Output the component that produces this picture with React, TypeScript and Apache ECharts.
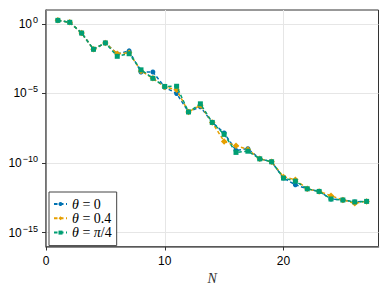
import React, { useEffect, useRef } from "react";
import * as echarts from "echarts";

const N = [1, 2, 3, 4, 5, 6, 7, 8, 9, 10, 11, 12, 13, 14, 15, 16, 17, 18, 19, 20, 21, 22, 23, 24, 25, 26, 27];

const errTheta0 = [
  1.8, 1.3, 0.22, 0.015, 0.043, 0.0069, 0.0115, 3.5e-4, 3.5e-4, 2.8e-5, 1.0e-5, 4.7e-7, 1.1e-6, 8.3e-8,
  1.45e-8, 8.1e-10, 1.07e-9, 2.0e-10, 1.23e-10, 8.3e-12, 2.75e-12, 1.4e-12, 9.1e-13, 2.6e-13, 2.2e-13,
  1.6e-13, 1.75e-13,
];
const errTheta04 = [
  1.8, 1.3, 0.22, 0.015, 0.043, 0.0072, 0.0085, 4.2e-4, 1.23e-4, 2.95e-5, 1.86e-5, 4.7e-7, 1.4e-6, 8.3e-8,
  3.5e-9, 1.74e-9, 9.5e-10, 2.0e-10, 1.23e-10, 1.0e-11, 6.3e-12, 1.4e-12, 9.1e-13, 4.5e-13, 2.2e-13,
  1.3e-13, 1.75e-13,
];
const errThetaPi4 = [
  1.8, 1.3, 0.22, 0.015, 0.043, 0.0047, 0.0072, 5.0e-4, 1.23e-4, 3.2e-5, 3.3e-5, 4.7e-7, 1.8e-6, 8.3e-8,
  1.15e-8, 5.8e-10, 7.1e-10, 2.0e-10, 1.23e-10, 8.3e-12, 5.0e-12, 1.4e-12, 9.1e-13, 2.6e-13, 2.2e-13,
  1.6e-13, 1.75e-13,
];

const xTicks = [0, 10, 20];
const yTickExponents = [-15, -10, -5, 0];
const seriesNames = ["θ = 0", "θ = 0.4", "θ = π/4"];
const colors = ["#0072B2", "#E69F00", "#009E73"];
const symbols = ["circle", "diamond", "rect"];
const symbolSizes = [5, 6.5, 5];

const sans = "Liberation Sans";
const serif = "Liberation Serif";

function toLog(vals: number[]) {
  return vals.map((v, i) => [N[i], Math.log10(v)]);
}

export default function App() {
  const ref = useRef<HTMLDivElement>(null);
  useEffect(() => {
    if (!ref.current) return;
    const chart = echarts.init(ref.current, null, { renderer: "svg" });
    const allData = [errTheta0, errTheta04, errThetaPi4];
    const legendRich = (name: string) => {
      if (name === seriesNames[2]) return "{i|θ}{r| = }{i|π}{r|/4}";
      if (name === seriesNames[1]) return "{i|θ}{r| = 0.4}";
      return "{i|θ}{r| = 0}";
    };
    chart.setOption({
      animation: false,
      backgroundColor: "#ffffff",
      grid: {
        left: 46,
        top: 10,
        right: 10.5,
        bottom: 45.5,
        show: true,
        borderColor: "#333",
        borderWidth: 1,
        containLabel: false,
      },
      legend: {
        orient: "vertical",
        left: 49,
        top: 192,
        padding: [5, 5, 6, 4],
        itemGap: 0.3,
        itemWidth: 13,
        itemHeight: 5,
        backgroundColor: "#ffffff",
        borderColor: "#444",
        borderWidth: 1,
        borderRadius: 0,
        data: seriesNames,
        formatter: legendRich,
        textStyle: {
          fontFamily: serif,
          fontSize: 14,
          lineHeight: 13,
          color: "#000",
          rich: {
            i: { fontFamily: serif, fontStyle: "italic", fontSize: 14, lineHeight: 13, color: "#000" },
            r: { fontFamily: serif, fontSize: 14, lineHeight: 13, color: "#000" },
          },
        },
      },
      xAxis: {
        type: "value",
        min: 0,
        max: 28,
        interval: 10,
        name: "N",
        nameLocation: "middle",
        nameGap: 21,
        nameTextStyle: { fontFamily: serif, fontStyle: "italic", fontSize: 14, color: "#333" },
        axisLine: { show: true, onZero: false, lineStyle: { color: "#666", width: 1.5 } },
        axisTick: { show: true, inside: false, length: 4, customValues: xTicks, lineStyle: { color: "#333" } },
        axisLabel: {
          customValues: xTicks,
          margin: 8,
          fontFamily: sans,
          fontSize: 12,
          color: "#000",
          formatter: (v: number) => (xTicks.includes(v) ? String(v) : ""),
        },
        splitLine: { show: true, lineStyle: { color: "#e6e6e6", width: 1 } },
      },
      yAxis: {
        type: "value",
        min: -16,
        max: 1,
        splitNumber: 4,
        axisLine: { show: true, onZero: false, lineStyle: { color: "#666", width: 1.5 } },
        axisTick: { show: true, inside: false, length: 4, customValues: yTickExponents, lineStyle: { color: "#333" } },
        axisLabel: {
          customValues: yTickExponents,
          margin: 8,
          color: "#000",
          formatter: (v: number) => {
            if (!yTickExponents.includes(v)) return "";
            const e = v === 0 ? "0" : "−" + String(Math.abs(v));
            return "{b|10}{s|" + e + "}";
          },
          rich: {
            b: { fontFamily: sans, fontSize: 12, color: "#000" },
            s: { fontFamily: sans, fontSize: 9, color: "#000", padding: [0, 0, 8, 1] },
          },
        },
        splitLine: { show: true, lineStyle: { color: "#e6e6e6", width: 1 } },
      },
      series: allData.map((vals, k) => ({
        name: seriesNames[k],
        type: "line",
        data: toLog(vals),
        symbol: symbols[k],
        symbolSize: symbolSizes[k],
        showSymbol: true,
        color: colors[k],
        itemStyle: { color: colors[k] },
        lineStyle: { color: colors[k], width: 1.5, type: [3.5, 2.5] },
        z: 2 + k,
      })),
    });
    return () => chart.dispose();
  }, []);
  return <div ref={ref} style={{ width: 389, height: 292, position: "absolute", left: 0, top: 0 }} />;
}
